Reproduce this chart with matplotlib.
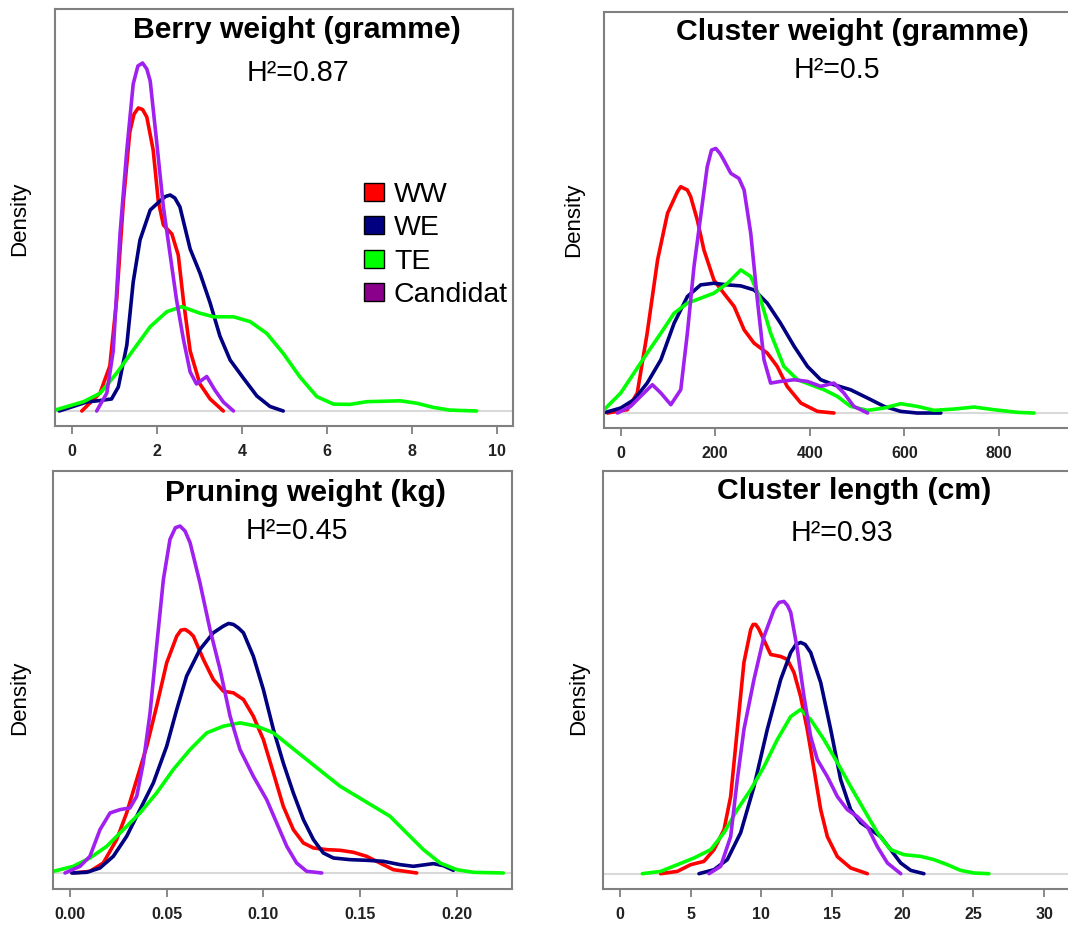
import numpy as np
import matplotlib.pyplot as plt
from matplotlib.patches import Patch

W, H = 1068, 926
plt.rcParams['font.family'] = ['Liberation Sans', 'DejaVu Sans']

groups = ["WW", "WE", "TE", "Candidat"]
line_colors = ["#ff0000", "#000080", "#00ff00", "#a020f0"]
legend_colors = ["#ff0000", "#000080", "#00ff00", "#8b008b"]

# ---- Berry weight (gramme) ----
berry_ww_x = [0.23, 0.66, 0.89, 1.05, 1.21, 1.36, 1.46, 1.56, 1.66, 1.76, 1.91, 2.03, 2.15, 2.35, 2.50, 2.62, 2.78, 3.01, 3.25, 3.56]
berry_ww_y = [0.0, 0.06, 0.15, 0.37, 0.70, 0.93, 0.99, 1.01, 1.005, 0.98, 0.87, 0.70, 0.62, 0.59, 0.52, 0.37, 0.20, 0.09, 0.04, 0.0]
berry_we_x = [-0.3, 0.35, 0.66, 0.93, 1.09, 1.29, 1.44, 1.60, 1.84, 2.07, 2.20, 2.31, 2.42, 2.54, 2.78, 3.01, 3.25, 3.48, 3.72, 4.03, 4.35, 4.66, 4.97]
berry_we_y = [0.0, 0.03, 0.035, 0.04, 0.08, 0.22, 0.43, 0.57, 0.67, 0.70, 0.715, 0.72, 0.71, 0.68, 0.54, 0.46, 0.36, 0.25, 0.17, 0.11, 0.05, 0.015, 0.0]
berry_te_x = [-0.40, 0.27, 0.66, 1.05, 1.44, 1.84, 2.23, 2.58, 3.01, 3.33, 3.80, 4.19, 4.58, 4.97, 5.36, 5.76, 6.15, 6.54, 6.93, 7.72, 8.11, 8.50, 8.89, 9.52]
berry_te_y = [0.003, 0.031, 0.059, 0.126, 0.203, 0.281, 0.331, 0.348, 0.326, 0.314, 0.314, 0.298, 0.259, 0.192, 0.114, 0.048, 0.023, 0.022, 0.031, 0.034, 0.026, 0.012, 0.003, 0.0]
berry_ca_x = [0.58, 0.82, 0.97, 1.13, 1.29, 1.44, 1.55, 1.66, 1.76, 1.84, 1.99, 2.15, 2.31, 2.46, 2.62, 2.78, 2.93, 3.17, 3.36, 3.56, 3.80]
berry_ca_y = [0.0, 0.06, 0.20, 0.59, 0.87, 1.09, 1.15, 1.16, 1.14, 1.10, 0.90, 0.68, 0.52, 0.37, 0.24, 0.13, 0.09, 0.115, 0.07, 0.03, 0.0]

# ---- Cluster weight (gramme) ----
cw_ww_x = [-28, 14, 35, 56, 78, 99, 120, 127, 134, 141, 148, 162, 176, 197, 218, 240, 261, 282, 310, 331, 352, 381, 416, 451]
cw_ww_y = [0.0, 0.0001, 0.0006, 0.0024, 0.0046, 0.006, 0.00665, 0.0068, 0.00675, 0.0067, 0.0065, 0.0058, 0.0049, 0.004, 0.0036, 0.0032, 0.0025, 0.0021, 0.0018, 0.0014, 0.0008, 0.0003, 0.00005, 0.0]
cw_we_x = [-32, 0, 28, 56, 85, 113, 141, 169, 197, 226, 254, 282, 310, 338, 367, 395, 423, 451, 486, 522, 557, 592, 627, 677]
cw_we_y = [0.00002, 0.00015, 0.0004, 0.0009, 0.0016, 0.0027, 0.0035, 0.00385, 0.0039, 0.00385, 0.00382, 0.0037, 0.0033, 0.0027, 0.002, 0.0014, 0.001, 0.00085, 0.0007, 0.00045, 0.0002, 0.00005, 0.0, 0.0]
cw_te_x = [-35, 0, 28, 56, 85, 113, 141, 169, 197, 226, 254, 275, 296, 317, 345, 374, 402, 430, 458, 486, 522, 557, 592, 627, 663, 705, 747, 789, 839, 874]
cw_te_y = [0.0001, 0.0006, 0.0012, 0.0018, 0.0024, 0.003, 0.0033, 0.00345, 0.0036, 0.0039, 0.0043, 0.0041, 0.0034, 0.0024, 0.0014, 0.001, 0.00085, 0.0007, 0.0005, 0.0002, 0.00008, 0.00015, 0.00028, 0.0002, 0.00008, 0.00012, 0.00018, 0.0001, 0.00002, 0.0]
cw_ca_x = [-7, 21, 42, 67, 85, 106, 127, 141, 155, 169, 183, 192, 201, 210, 218, 233, 250, 261, 275, 289, 303, 317, 338, 367, 395, 423, 451, 472, 493, 522]
cw_ca_y = [0.0, 0.0002, 0.0005, 0.00085, 0.0006, 0.00025, 0.0007, 0.0024, 0.0044, 0.0059, 0.0074, 0.0079, 0.00795, 0.0078, 0.0076, 0.0072, 0.00705, 0.0067, 0.0054, 0.0034, 0.0016, 0.0009, 0.00095, 0.001, 0.00095, 0.0008, 0.0009, 0.0006, 0.0002, 0.0]

# ---- Pruning weight (kg) ----
pw_ww_x = [0.0017, 0.0103, 0.0172, 0.0241, 0.0293, 0.0345, 0.0397, 0.0448, 0.05, 0.0552, 0.0574, 0.0595, 0.0617, 0.0638, 0.069, 0.0741, 0.0793, 0.0845, 0.0897, 0.0948, 0.1, 0.1052, 0.1103, 0.1155, 0.1207, 0.1259, 0.1328, 0.1397, 0.1466, 0.1534, 0.1603, 0.1672, 0.1793]
pw_ww_y = [0.0, 0.05, 0.3, 1.0, 1.8, 2.8, 3.8, 5.0, 6.3, 7.1, 7.28, 7.3, 7.22, 7.1, 6.4, 5.8, 5.45, 5.4, 5.2, 4.7, 4.0, 3.0, 2.0, 1.3, 0.9, 0.75, 0.7, 0.68, 0.62, 0.5, 0.3, 0.1, 0.0]
pw_we_x = [0.0009, 0.0086, 0.0155, 0.0224, 0.0293, 0.0362, 0.0431, 0.05, 0.0552, 0.0603, 0.0672, 0.0741, 0.0793, 0.082, 0.0845, 0.087, 0.0897, 0.0948, 0.1, 0.1052, 0.1103, 0.1155, 0.1207, 0.1259, 0.131, 0.1362, 0.1448, 0.1534, 0.1621, 0.1707, 0.1776, 0.1879, 0.1931, 0.1983]
pw_we_y = [0.0, 0.02, 0.15, 0.5, 1.1, 1.9, 2.7, 3.8, 4.9, 5.9, 6.7, 7.2, 7.4, 7.48, 7.45, 7.35, 7.2, 6.5, 5.5, 4.3, 3.3, 2.4, 1.6, 1.0, 0.6, 0.45, 0.4, 0.38, 0.35, 0.25, 0.2, 0.28, 0.22, 0.08]
pw_te_x = [-0.0086, 0.0017, 0.0103, 0.019, 0.0276, 0.0362, 0.0448, 0.0534, 0.0621, 0.0707, 0.0793, 0.0879, 0.0966, 0.1052, 0.1138, 0.1224, 0.131, 0.1397, 0.1483, 0.1569, 0.1655, 0.1741, 0.1828, 0.1914, 0.2, 0.2086, 0.2241]
pw_te_y = [0.05, 0.2, 0.45, 0.8, 1.3, 1.8, 2.4, 3.1, 3.7, 4.2, 4.4, 4.5, 4.4, 4.2, 3.8, 3.4, 3.0, 2.6, 2.3, 2.0, 1.7, 1.2, 0.7, 0.3, 0.1, 0.02, 0.0]
pw_ca_x = [-0.0026, 0.0052, 0.0103, 0.0155, 0.0207, 0.0259, 0.031, 0.0345, 0.0379, 0.0414, 0.0448, 0.0483, 0.0517, 0.0545, 0.0569, 0.0595, 0.0621, 0.0672, 0.0724, 0.0776, 0.0828, 0.0879, 0.0948, 0.1017, 0.1069, 0.1121, 0.1172, 0.1224, 0.1302]
pw_ca_y = [0.0, 0.2, 0.5, 1.3, 1.8, 1.9, 1.95, 2.3, 3.3, 4.8, 6.8, 8.8, 10.0, 10.35, 10.4, 10.25, 9.9, 8.7, 7.3, 6.1, 4.7, 3.7, 2.9, 2.2, 1.5, 0.8, 0.3, 0.05, 0.0]

# ---- Cluster length (cm) ----
cl_ww_x = [2.88, 4.06, 5.0, 5.94, 6.65, 7.36, 7.83, 8.3, 8.77, 9.25, 9.42, 9.6, 9.8, 10.07, 10.66, 11.37, 11.84, 12.31, 12.78, 13.25, 13.73, 14.2, 14.67, 15.38, 16.32, 17.5]
cl_ww_y = [0.0, 0.0023, 0.009, 0.0123, 0.024, 0.044, 0.077, 0.144, 0.211, 0.244, 0.249, 0.249, 0.245, 0.237, 0.219, 0.217, 0.214, 0.201, 0.177, 0.144, 0.104, 0.064, 0.037, 0.017, 0.0057, 0.0]
cl_we_x = [5.59, 6.65, 7.59, 8.54, 9.48, 10.42, 11.37, 12.08, 12.45, 12.78, 13.1, 13.49, 14.2, 14.91, 15.61, 16.32, 17.03, 17.74, 18.44, 19.15, 19.86, 20.57, 21.5]
cl_we_y = [0.0, 0.004, 0.014, 0.041, 0.087, 0.144, 0.194, 0.221, 0.229, 0.231, 0.229, 0.221, 0.191, 0.144, 0.094, 0.064, 0.051, 0.044, 0.037, 0.024, 0.0107, 0.0033, 0.0]
cl_te_x = [1.58, 2.88, 4.06, 5.24, 6.42, 7.36, 8.3, 9.25, 10.19, 11.13, 12.08, 12.78, 13.49, 14.43, 15.38, 16.32, 17.26, 18.21, 19.15, 20.09, 21.27, 22.22, 23.16, 24.1, 25.05, 26.1]
cl_te_y = [0.0, 0.0023, 0.009, 0.0157, 0.024, 0.041, 0.064, 0.084, 0.107, 0.134, 0.157, 0.164, 0.154, 0.134, 0.111, 0.087, 0.064, 0.041, 0.024, 0.019, 0.0173, 0.014, 0.009, 0.0033, 0.0007, 0.0]
cl_ca_x = [6.3, 7.12, 7.83, 8.3, 8.77, 9.48, 10.19, 10.9, 11.25, 11.6, 11.85, 12.08, 12.55, 13.02, 13.49, 13.96, 14.67, 15.38, 16.08, 16.79, 17.5, 18.21, 18.92, 19.86]
cl_ca_y = [0.0, 0.0073, 0.037, 0.094, 0.144, 0.194, 0.237, 0.264, 0.271, 0.272, 0.268, 0.261, 0.224, 0.177, 0.137, 0.114, 0.097, 0.077, 0.064, 0.057, 0.047, 0.027, 0.0107, 0.0]

panels = [
    dict(title="Berry weight (gramme)", h2="H²=0.87",
         curves=[(berry_ww_x, berry_ww_y), (berry_we_x, berry_we_y), (berry_te_x, berry_te_y), (berry_ca_x, berry_ca_y)],
         rect=(55, 9, 513, 426), xlim=(-0.4, 10.376), ylim=(-0.05, 1.34),
         xticks=[0, 2, 4, 6, 8, 10], fmt="{:g}",
         title_xy=(297, 30), h2_xy=(298, 73), dens_xy=(20, 219), legend=True),
    dict(title="Cluster weight (gramme)", h2="H²=0.5",
         curves=[(cw_ww_x, cw_ww_y), (cw_we_x, cw_we_y), (cw_te_x, cw_te_y), (cw_ca_x, cw_ca_y)],
         rect=(604, 12, 1075, 428), xlim=(-35.3, 960.7), ylim=(-0.00045, 0.01205),
         xticks=[0, 200, 400, 600, 800], fmt="{:g}",
         title_xy=(852, 32), h2_xy=(837, 70), dens_xy=(574, 220), legend=False),
    dict(title="Pruning weight (kg)", h2="H²=0.45",
         curves=[(pw_ww_x, pw_ww_y), (pw_we_x, pw_we_y), (pw_te_x, pw_te_y), (pw_ca_x, pw_ca_y)],
         rect=(53, 471, 512, 889), xlim=(-0.0088, 0.2286), ylim=(-0.48, 12.05),
         xticks=[0.0, 0.05, 0.10, 0.15, 0.20], fmt="{:.2f}",
         title_xy=(305, 493), h2_xy=(297, 531), dens_xy=(20, 698), legend=False),
    dict(title="Cluster length (cm)", h2="H²=0.93",
         curves=[(cl_ww_x, cl_ww_y), (cl_we_x, cl_we_y), (cl_te_x, cl_te_y), (cl_ca_x, cl_ca_y)],
         rect=(603, 471, 1075, 889), xlim=(-1.2, 32.19), ylim=(-0.0153, 0.4023),
         xticks=[0, 5, 10, 15, 20, 25, 30], fmt="{:g}",
         title_xy=(854, 491), h2_xy=(842, 533), dens_xy=(579, 698), legend=False),
]

fig = plt.figure(figsize=(W / 100, H / 100), dpi=100)

for p in panels:
    l, t, r, b = p["rect"]
    ax = fig.add_axes([l / W, 1 - b / H, (r - l) / W, (b - t) / H])
    ax.axhline(0, color="#d9d9d9", lw=1.5, zorder=1)
    for (xs, ys), c in zip(p["curves"], line_colors):
        ax.plot(xs, ys, color=c, lw=2.6, solid_joinstyle="round", solid_capstyle="round", zorder=2)
    ax.set_xlim(*p["xlim"])
    ax.set_ylim(*p["ylim"])
    ax.set_yticks([])
    ax.set_xticks(p["xticks"])
    ax.set_xticklabels([p["fmt"].format(v) for v in p["xticks"]], fontweight="bold", fontsize=11.5, color="#222222")
    ax.tick_params(axis="x", length=6, width=1.3, color="#808080", pad=7)
    for s in ax.spines.values():
        s.set_color("#808080")
        s.set_linewidth(1.5)

    fig.text(p["title_xy"][0] / W, 1 - p["title_xy"][1] / H, p["title"],
             ha="center", va="center", fontsize=21.7, fontweight="bold")
    fig.text(p["h2_xy"][0] / W, 1 - p["h2_xy"][1] / H, p["h2"],
             ha="center", va="center", fontsize=20.6)
    fig.text(p["dens_xy"][0] / W, 1 - p["dens_xy"][1] / H, "Density",
             ha="center", va="center", rotation=90, fontsize=16)

    if p["legend"]:
        handles = [Patch(facecolor=c, edgecolor="black", lw=1.0, label=g)
                   for g, c in zip(groups, legend_colors)]
        ax.legend(handles=handles, loc="upper left", bbox_to_anchor=(364 / W, 1 - 182 / H),
                  bbox_transform=fig.transFigure, frameon=False, fontsize=20.5,
                  handlelength=0.7, handleheight=0.6, handletextpad=0.35,
                  labelspacing=0.26, borderpad=0, borderaxespad=0)

fig.savefig("out.png", dpi=100)
